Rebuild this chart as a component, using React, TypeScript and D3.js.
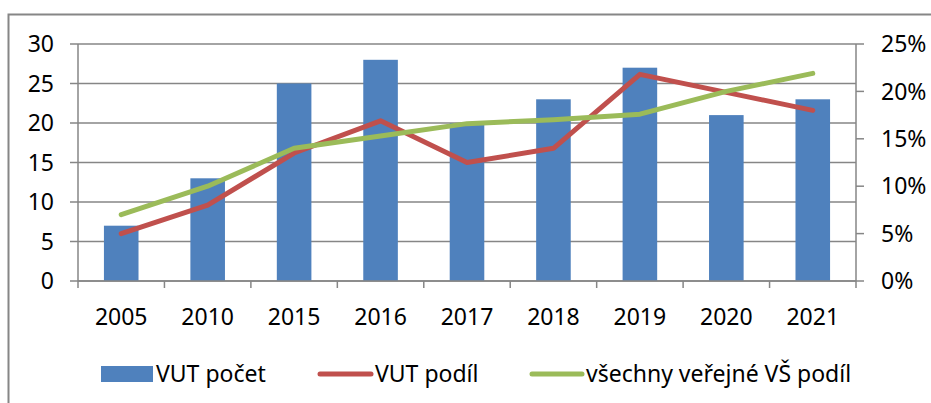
import React from "react";
import * as d3 from "d3";

const categories = ["2005", "2010", "2015", "2016", "2017", "2018", "2019", "2020", "2021"];
const vutPocet = [7, 13, 25, 28, 20, 23, 27, 21, 23];
const vutPodil = [5.0, 8.0, 13.5, 16.9, 12.5, 14.0, 21.8, 19.9, 18.0];
const vsePodil = [7.0, 10.0, 14.0, 15.3, 16.6, 17.0, 17.6, 20.0, 21.9];
const leftTicks = [0, 5, 10, 15, 20, 25, 30];
const rightTicks = [0, 5, 10, 15, 20, 25];
const legendLabels = ["VUT počet", "VUT podíl", "všechny veřejné VŠ podíl"];

const W = 931, H = 403;
const L = 78, R = 856, T = 44, B = 281;
const GRAY = "#868686";
const BLUE = "#4F81BD", RED = "#C0504D", GREEN = "#9BBB59";
const FONT = "'Noto Sans', sans-serif";
const FS = 23;

export default function App() {
  const x = d3.scaleBand<string>().domain(categories).range([L, R]).paddingInner(0.6).paddingOuter(0.3);
  const xb = d3.scaleBand<string>().domain(categories).range([L, R]);
  const yL = d3.scaleLinear().domain([0, 30]).range([B, T]);
  const yR = d3.scaleLinear().domain([0, 25]).range([B, T]);
  const cx = (c: string) => (xb(c) as number) + xb.bandwidth() / 2;
  const line = d3.line<number>().x((_, i) => cx(categories[i])).y((v) => yR(v));

  return (
    <svg width={W} height={H} style={{ position: "absolute", left: 0, top: 0 }} fontFamily={FONT}>
      <rect x={0} y={0} width={W} height={H} fill="#fff" />
      <rect x={8.5} y={14.5} width={1200} height={800} fill="none" stroke={GRAY} strokeWidth={2} />
      {leftTicks.map((t) => (
        <g key={"l" + t}>
          <line x1={70} x2={R} y1={yL(t)} y2={yL(t)} stroke={GRAY} strokeWidth={1.5} />
          <text x={54} y={yL(t)} dy="0.36em" textAnchor="end" fontSize={FS}>{t}</text>
        </g>
      ))}
      {rightTicks.map((t) => (
        <g key={"r" + t}>
          <line x1={R} x2={864} y1={yR(t)} y2={yR(t)} stroke={GRAY} strokeWidth={1.5} />
          <text x={881} y={yR(t)} dy="0.36em" textAnchor="start" fontSize={FS}>{t}%</text>
        </g>
      ))}
      <line x1={L} x2={L} y1={T} y2={B} stroke={GRAY} strokeWidth={1.5} />
      <line x1={R} x2={R} y1={T} y2={B + 7} stroke={GRAY} strokeWidth={1.5} />
      {categories.map((c) => (
        <line key={"t" + c} x1={xb(c) as number} x2={xb(c) as number} y1={B} y2={B + 7} stroke={GRAY} strokeWidth={1.5} />
      ))}
      {categories.map((c, i) => (
        <rect key={"b" + c} x={x(c)} y={yL(vutPocet[i])} width={x.bandwidth()} height={B - yL(vutPocet[i])} fill={BLUE} />
      ))}
      <line x1={L} x2={R} y1={B} y2={B} stroke={GRAY} strokeWidth={1.5} />
      <path d={line(vutPodil) as string} fill="none" stroke={RED} strokeWidth={5} strokeLinecap="round" strokeLinejoin="round" />
      <path d={line(vsePodil) as string} fill="none" stroke={GREEN} strokeWidth={5} strokeLinecap="round" strokeLinejoin="round" />
      {categories.map((c) => (
        <text key={"x" + c} x={cx(c)} y={317} dy="0.36em" textAnchor="middle" fontSize={FS}>{c}</text>
      ))}
      <g fontSize={FS}>
        <rect x={101} y={366} width={52} height={16} fill={BLUE} />
        <text x={156} y={374} dy="0.36em">{legendLabels[0]}</text>
        <line x1={320} x2={371} y1={374} y2={374} stroke={RED} strokeWidth={5} strokeLinecap="round" />
        <text x={375} y={374} dy="0.36em">{legendLabels[1]}</text>
        <line x1={532} x2={582} y1={374} y2={374} stroke={GREEN} strokeWidth={5} strokeLinecap="round" />
        <text x={586} y={374} dy="0.36em">{legendLabels[2]}</text>
      </g>
    </svg>
  );
}
